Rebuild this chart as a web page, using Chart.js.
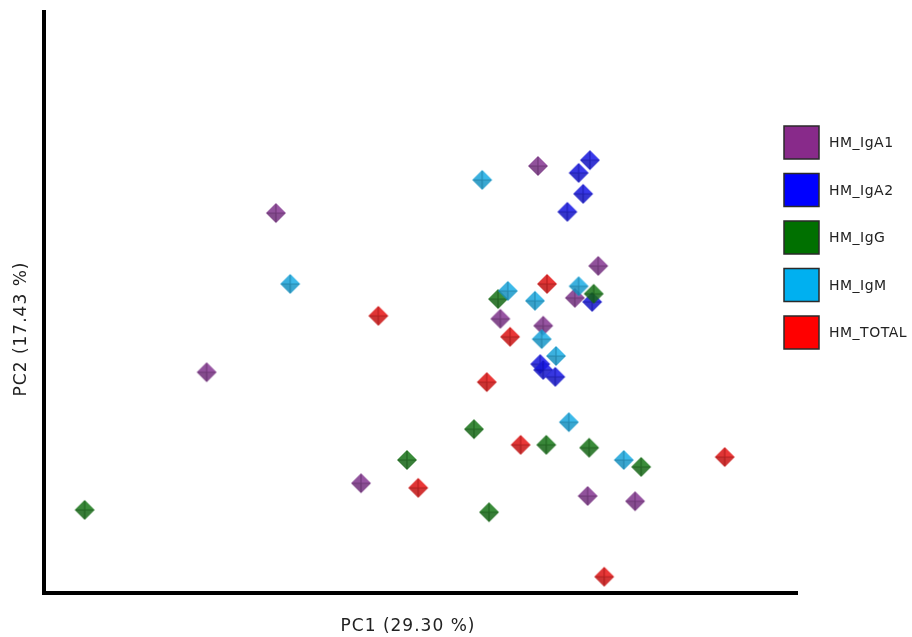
<!DOCTYPE html>
<html>
<head>
<meta charset="utf-8">
<script src="https://cdn.jsdelivr.net/npm/chart.js@4/dist/chart.umd.min.js"></script>
<style>
  html, body { margin: 0; padding: 0; background: #fff; }
  #wrap { width: 912px; height: 637px; position: relative; }
</style>
</head>
<body>
<div id="wrap"><canvas id="pca"></canvas></div>
<script>
// PCA scores (PC1, PC2), scaled to 0–100 along each axis
const seriesNames = ['HM_IgA1', 'HM_IgA2', 'HM_IgG', 'HM_IgM', 'HM_TOTAL'];

const igA1PC1 = [65.6, 30.8, 73.6, 70.5, 60.6, 66.3, 21.6, 42.1, 72.2, 78.5];
const igA1PC2 = [73.5, 65.4, 56.3, 50.8, 47.2, 46.0, 38.0, 18.9, 16.7, 15.8];

const igA2PC1 = [72.5, 71.0, 71.6, 69.5, 72.8, 65.9, 66.3, 67.9];
const igA2PC2 = [74.5, 72.3, 68.7, 65.6, 50.1, 39.4, 38.4, 37.2];

const igGPC1 = [60.3, 73.0, 57.1, 66.7, 72.4, 79.3, 48.2, 5.4, 59.1];
const igGPC2 = [50.6, 51.5, 28.2, 25.5, 25.0, 21.7, 22.9, 14.3, 13.9];

const igMPC1 = [58.2, 32.7, 61.6, 65.2, 71.0, 66.1, 68.0, 69.7, 77.0];
const igMPC2 = [71.1, 53.2, 52.0, 50.3, 52.8, 43.7, 40.8, 29.4, 22.9];

const totalPC1 = [66.8, 44.4, 61.9, 58.8, 63.3, 90.4, 49.7, 74.4];
const totalPC2 = [53.2, 47.7, 44.1, 36.3, 25.5, 23.4, 18.1, 2.8];

const axisTitles = { x: 'PC1 (29.30 %)', y: 'PC2 (17.43 %)' };

// marker colours and legend swatch colours per group
const markerRGB = [[124, 52, 136], [22, 22, 214], [24, 112, 24], [26, 160, 212], [214, 20, 20]];
const legendColors = ['#882a8a', '#0000ff', '#007000', '#00b0f0', '#ff0000'];

function pairs(xs, ys) { return xs.map((x, i) => ({ x: x, y: ys[i] })); }

// shaded diamond marker (four facets meeting at a darker ridge)
function diamond(rgb) {
  const s = 22, h = s / 2;
  const c = document.createElement('canvas');
  c.width = s; c.height = s;
  const g = c.getContext('2d');
  const shade = (f, a) => 'rgba(' + rgb.map(v => Math.round(Math.min(255, v * f))).join(',') + ',' + a + ')';
  const facets = [
    [[h, 1], [s - 1, h]], [[s - 1, h], [h, s - 1]],
    [[h, s - 1], [1, h]], [[1, h], [h, 1]]
  ];
  const factors = [1.08, 0.95, 0.9, 1.02];
  facets.forEach((f, i) => {
    g.beginPath();
    g.moveTo(h, h); g.lineTo(f[0][0], f[0][1]); g.lineTo(f[1][0], f[1][1]);
    g.closePath();
    g.fillStyle = shade(factors[i], 0.86);
    g.fill();
  });
  g.strokeStyle = shade(0.7, 0.55);
  g.lineWidth = 1.2;
  g.beginPath();
  g.moveTo(h, 2); g.lineTo(h, s - 2);
  g.moveTo(2, h); g.lineTo(s - 2, h);
  g.stroke();
  return c;
}

const groups = [
  pairs(igA1PC1, igA1PC2), pairs(igA2PC1, igA2PC2), pairs(igGPC1, igGPC2),
  pairs(igMPC1, igMPC2), pairs(totalPC1, totalPC2)
];
const drawOrder = [3, 4, 2, 1, 0];

const datasets = seriesNames.map((name, i) => ({
  label: name,
  data: groups[i],
  pointStyle: diamond(markerRGB[i]),
  pointRadius: 10,
  pointHoverRadius: 10,
  backgroundColor: legendColors[i],
  borderColor: legendColors[i],
  order: drawOrder[i],
  clip: false
}));

// legend drawn as boxed swatches on the right
const sideLegend = {
  id: 'sideLegend',
  afterDraw(chart) {
    const ctx = chart.ctx;
    ctx.save();
    ctx.font = '14px "DejaVu Sans", Verdana, sans-serif';
    ctx.letterSpacing = '0.5px';
    ctx.textBaseline = 'middle';
    ctx.textAlign = 'left';
    chart.data.datasets.forEach((ds, i) => {
      const top = 126 + i * 47.5;
      ctx.fillStyle = ds.backgroundColor;
      ctx.fillRect(784, top, 35, 33);
      ctx.strokeStyle = '#2a2a2a';
      ctx.lineWidth = 1.5;
      ctx.strokeRect(784, top, 35, 33);
      ctx.fillStyle = '#222';
      ctx.fillText(ds.label, 829, top + 17.5);
    });
    ctx.restore();
  }
};

// axis titles
const axisTitlePlugin = {
  id: 'axisTitlePlugin',
  afterDraw(chart) {
    const ctx = chart.ctx;
    ctx.save();
    ctx.font = '17px "DejaVu Sans", Verdana, sans-serif';
    ctx.letterSpacing = '1px';
    ctx.fillStyle = '#222';
    ctx.textAlign = 'center';
    ctx.textBaseline = 'middle';
    ctx.fillText(axisTitles.x, 408, 627);
    ctx.translate(22, 329);
    ctx.rotate(-Math.PI / 2);
    ctx.fillText(axisTitles.y, 0, 0);
    ctx.restore();
  }
};

new Chart(document.getElementById('pca'), {
  type: 'scatter',
  data: { datasets: datasets },
  options: {
    responsive: true,
    maintainAspectRatio: false,
    animation: false,
    layout: { padding: { top: 12, right: 115, left: 0, bottom: 0 } },
    plugins: { legend: { display: false }, tooltip: { enabled: false } },
    scales: {
      x: {
        type: 'linear', min: 0, max: 100,
        grid: { display: false },
        ticks: { display: false },
        border: { display: true, color: '#000', width: 4 },
        afterFit(scale) { scale.height = 44; }
      },
      y: {
        type: 'linear', min: 0, max: 100,
        grid: { display: false },
        ticks: { display: false },
        border: { display: true, color: '#000', width: 4 },
        afterFit(scale) { scale.width = 44; }
      }
    }
  },
  plugins: [sideLegend, axisTitlePlugin]
});
</script>
</body>
</html>
